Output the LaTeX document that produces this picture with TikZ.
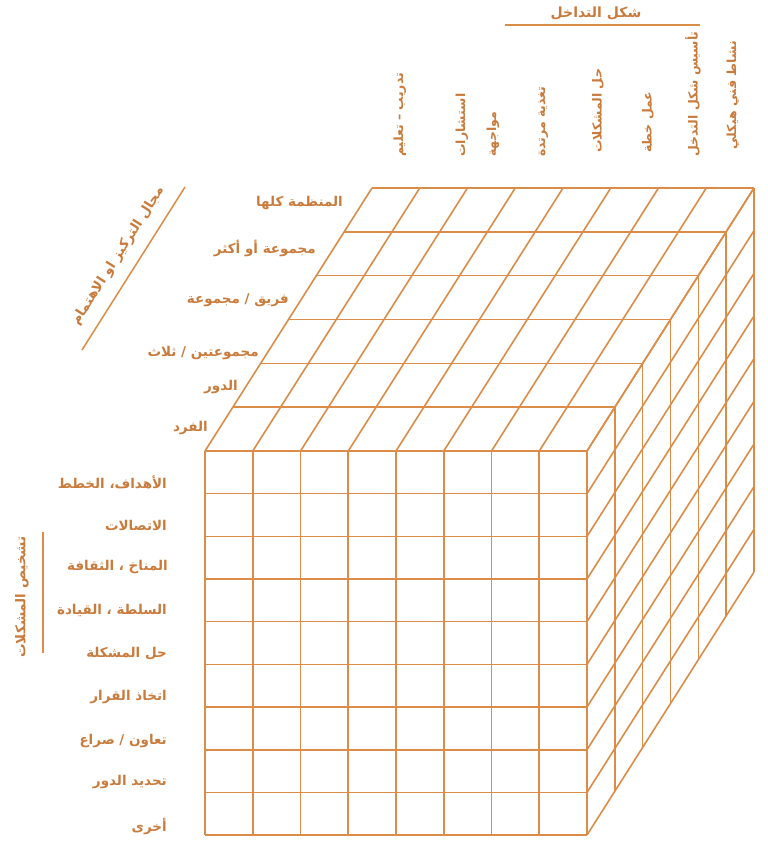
\documentclass[tikz,border=0pt]{standalone}
\usepackage{fontspec}
\newfontfamily\arabicfont[Script=Arabic]{DejaVu Sans}
\TeXXeTstate=1
\definecolor{gridc}{HTML}{DB8C48}
\definecolor{inkc}{HTML}{C97B3C}
\newcommand{\artxt}[1]{\beginR #1\endR}
\begin{document}
\begin{tikzpicture}[x=1pt,y=-1pt,line join=round,
  gridline/.style={draw=gridc,line width=1.6pt},
  rule/.style={draw=gridc,line width=1.5pt},
  lab/.style={text=inkc,font=\arabicfont\bfseries\fontsize{13.5}{15}\selectfont,inner sep=0pt},
  collab/.style={lab,font=\arabicfont\bfseries\fontsize{12.5}{14}\selectfont,rotate=90,anchor=west},
  rowlab/.style={lab,anchor=east}]
\useasboundingbox (0,0) rectangle (768,860);
\def\cw{47.75}\def\rh{42.67}\def\ddx{27.83}\def\ddy{43.83}
% front face
\foreach \i in {0,...,8} \draw[gridline] (205+\i*\cw,451) -- (205+\i*\cw,835);
\foreach \j in {0,...,9} \draw[gridline] (205,451+\j*\rh) -- (587,451+\j*\rh);
% top face
\foreach \i in {0,...,8} \draw[gridline] (205+\i*\cw,451) -- (205+\i*\cw+6*\ddx,451-6*\ddy);
\foreach \k in {0,...,6} \draw[gridline] (205+\k*\ddx,451-\k*\ddy) -- (587+\k*\ddx,451-\k*\ddy);
% right face
\foreach \k in {0,...,6} \draw[gridline] (587+\k*\ddx,451-\k*\ddy) -- (587+\k*\ddx,835-\k*\ddy);
\foreach \j in {0,...,9} \draw[gridline] (587,451+\j*\rh) -- (587+6*\ddx,451+\j*\rh-6*\ddy);
% title
\node[lab,font=\arabicfont\bfseries\fontsize{14}{16}\selectfont] (title) at (596,13) {\artxt{شكل التداخل}};
\coordinate (tl) at (505,25); \coordinate (tr) at (700,25);
\draw[rule] (tl) -- (tr);
% column labels
\node[collab] (c1) at (400,157) {\artxt{تدريب – تعليم}};
\node[collab] (c2) at (462,157) {\artxt{استشارات}};
\node[collab] (c3) at (493,157) {\artxt{مواجهة}};
\node[collab] (c4) at (543,157) {\artxt{تغذية مرتدة}};
\node[collab] (c5) at (598,153) {\artxt{حل المشكلات}};
\node[collab] (c6) at (648,153) {\artxt{عمل خطة}};
\node[collab] (c7) at (693,157) {\artxt{تأسيس شكل التدخل}};
\node[collab] (c8) at (733,150) {\artxt{نشاط فني هيكلي}};
% focus axis
\node[lab,rotate=57.7] (focus) at (118,256) {\artxt{مجال التركيز او الاهتمام}};
\coordinate (fa) at (82,350); \coordinate (fb) at (185,187);
\draw[rule] (fa) -- (fb);
\node[rowlab] (t1) at (343,203) {\artxt{المنظمة كلها}};
\node[rowlab] (t2) at (316,248) {\artxt{مجموعة أو أكثر}};
\node[rowlab] (t3) at (289,300) {\artxt{فريق / مجموعة}};
\node[rowlab] (t4) at (259,353) {\artxt{مجموعتين / ثلاث}};
\node[rowlab] (t5) at (238,387) {\artxt{الدور}};
\node[rowlab] (t6) at (208,428) {\artxt{الفرد}};
% diagnosis axis
\node[lab,rotate=90] (diag) at (22,597) {\artxt{تشخيص المشكلات}};
\coordinate (da) at (43,532); \coordinate (db) at (43,653);
\draw[rule] (da) -- (db);
\node[rowlab] (r1) at (167,482) {\artxt{الأهداف، الخطط}};
\node[rowlab] (r2) at (167,525) {\artxt{الاتصالات}};
\node[rowlab] (r3) at (168,567) {\artxt{المناخ ، الثقافة}};
\node[rowlab] (r4) at (167,610) {\artxt{السلطة ، القيادة}};
\node[rowlab] (r5) at (167,654) {\artxt{حل المشكلة}};
\node[rowlab] (r6) at (167,697) {\artxt{اتخاذ القرار}};
\node[rowlab] (r7) at (167,741) {\artxt{تعاون / صراع}};
\node[rowlab] (r8) at (167,782) {\artxt{تحديد الدور}};
\node[rowlab] (r9) at (167,826) {\artxt{أخرى}};
\end{tikzpicture}
\end{document}
